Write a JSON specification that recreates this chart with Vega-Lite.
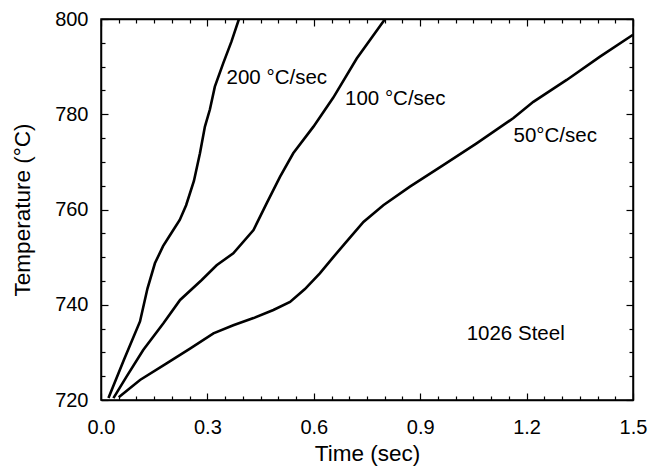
{
  "$schema": "https://vega.github.io/schema/vega-lite/v6.json",
  "autosize": "none",
  "width": 532,
  "height": 381,
  "padding": {"left": 101, "top": 19, "right": 15, "bottom": 67},
  "background": "white",
  "config": {
    "font": "Liberation Sans",
    "view": {"stroke": "black", "strokeWidth": 1.5},
    "axis": {
      "domainColor": "black",
      "domainWidth": 1.5,
      "tickColor": "black",
      "tickWidth": 1.2,
      "labelColor": "black",
      "titleColor": "black",
      "labelFontSize": 20,
      "titleFontSize": 22.5,
      "titleFontWeight": "normal",
      "grid": false
    }
  },
  "datasets": {
    "curves": [
      {"series": "200", "t": 0.021, "T": 720.4},
      {"series": "200", "t": 0.065, "T": 728.5},
      {"series": "200", "t": 0.110, "T": 736.5},
      {"series": "200", "t": 0.131, "T": 743.4},
      {"series": "200", "t": 0.152, "T": 748.7},
      {"series": "200", "t": 0.175, "T": 752.3},
      {"series": "200", "t": 0.198, "T": 755.0},
      {"series": "200", "t": 0.222, "T": 757.8},
      {"series": "200", "t": 0.240, "T": 760.9},
      {"series": "200", "t": 0.262, "T": 766.0},
      {"series": "200", "t": 0.279, "T": 771.8},
      {"series": "200", "t": 0.293, "T": 777.4},
      {"series": "200", "t": 0.307, "T": 781.0},
      {"series": "200", "t": 0.321, "T": 785.8},
      {"series": "200", "t": 0.345, "T": 790.8},
      {"series": "200", "t": 0.368, "T": 795.3},
      {"series": "200", "t": 0.389, "T": 800.0},
      {"series": "100", "t": 0.035, "T": 720.4},
      {"series": "100", "t": 0.072, "T": 724.9},
      {"series": "100", "t": 0.119, "T": 730.5},
      {"series": "100", "t": 0.176, "T": 736.1},
      {"series": "100", "t": 0.223, "T": 741.0},
      {"series": "100", "t": 0.284, "T": 745.2},
      {"series": "100", "t": 0.326, "T": 748.3},
      {"series": "100", "t": 0.373, "T": 750.8},
      {"series": "100", "t": 0.430, "T": 755.7},
      {"series": "100", "t": 0.467, "T": 761.3},
      {"series": "100", "t": 0.505, "T": 766.9},
      {"series": "100", "t": 0.542, "T": 771.8},
      {"series": "100", "t": 0.599, "T": 777.4},
      {"series": "100", "t": 0.655, "T": 783.5},
      {"series": "100", "t": 0.721, "T": 791.7},
      {"series": "100", "t": 0.801, "T": 800.0},
      {"series": "50", "t": 0.050, "T": 720.6},
      {"series": "50", "t": 0.110, "T": 724.2},
      {"series": "50", "t": 0.185, "T": 727.7},
      {"series": "50", "t": 0.251, "T": 730.8},
      {"series": "50", "t": 0.317, "T": 734.0},
      {"series": "50", "t": 0.373, "T": 735.7},
      {"series": "50", "t": 0.430, "T": 737.2},
      {"series": "50", "t": 0.486, "T": 738.9},
      {"series": "50", "t": 0.533, "T": 740.6},
      {"series": "50", "t": 0.575, "T": 743.3},
      {"series": "50", "t": 0.617, "T": 746.6},
      {"series": "50", "t": 0.655, "T": 750.0},
      {"series": "50", "t": 0.688, "T": 752.9},
      {"series": "50", "t": 0.740, "T": 757.4},
      {"series": "50", "t": 0.796, "T": 760.9},
      {"series": "50", "t": 0.871, "T": 764.8},
      {"series": "50", "t": 0.965, "T": 769.3},
      {"series": "50", "t": 1.059, "T": 773.9},
      {"series": "50", "t": 1.163, "T": 779.2},
      {"series": "50", "t": 1.219, "T": 782.6},
      {"series": "50", "t": 1.313, "T": 787.2},
      {"series": "50", "t": 1.407, "T": 792.1},
      {"series": "50", "t": 1.500, "T": 796.7}
    ],
    "labels": [
      {"label": "200 °C/sec", "t": 0.354, "T": 787.7},
      {"label": "100 °C/sec", "t": 0.688, "T": 783.2},
      {"label": "50°C/sec", "t": 1.163, "T": 775.5},
      {"label": "1026 Steel", "t": 1.031, "T": 733.8}
    ]
  },
  "layer": [
    {
      "data": {"name": "curves"},
      "mark": {"type": "line", "color": "black", "strokeWidth": 2.6, "clip": true},
      "encoding": {
        "x": {
          "field": "t", "type": "quantitative",
          "scale": {"domain": [0, 1.5], "nice": false, "zero": false},
          "axis": {
            "orient": "bottom",
            "title": "Time (sec)",
            "values": [0,0.05,0.1,0.15,0.2,0.25,0.3,0.35,0.4,0.45,0.5,0.55,0.6,0.65,0.7,0.75,0.8,0.85,0.9,0.95,1,1.05,1.1,1.15,1.2,1.25,1.3,1.35,1.4,1.45,1.5],
            "labelExpr": "round(datum.value*100) % 30 === 0 ? format(datum.value, '.1f') : ''",
            "tickSize": {"condition": {"test": "round(datum.value*100) % 30 === 0", "value": -7}, "value": -4},
            "labelPadding": 24,
            "labelFlush": false,
            "labelOverlap": false,
            "titlePadding": 2
          }
        },
        "y": {
          "field": "T", "type": "quantitative",
          "scale": {"domain": [720, 800], "nice": false, "zero": false},
          "axis": {
            "orient": "left",
            "title": "Temperature (°C)",
            "values": [720,725,730,735,740,745,750,755,760,765,770,775,780,785,790,795,800],
            "labelExpr": "datum.value % 20 === 0 ? datum.label : ''",
            "tickSize": {"condition": {"test": "datum.value % 20 === 0", "value": -7}, "value": -4},
            "labelPadding": 20,
            "labelFlush": false,
            "labelOverlap": false,
            "titlePadding": 20
          }
        },
        "detail": {"field": "series", "type": "nominal"}
      }
    },
    {
      "data": {"name": "labels"},
      "mark": {"type": "text", "align": "left", "baseline": "middle", "fontSize": 20.5, "color": "black"},
      "encoding": {
        "x": {
          "field": "t", "type": "quantitative",
          "axis": {
            "orient": "top",
            "title": null,
            "labels": false,
            "values": [0,0.05,0.1,0.15,0.2,0.25,0.3,0.35,0.4,0.45,0.5,0.55,0.6,0.65,0.7,0.75,0.8,0.85,0.9,0.95,1,1.05,1.1,1.15,1.2,1.25,1.3,1.35,1.4,1.45,1.5],
            "tickSize": {"condition": {"test": "round(datum.value*100) % 30 === 0", "value": -7}, "value": -4}
          }
        },
        "y": {
          "field": "T", "type": "quantitative",
          "axis": {
            "orient": "right",
            "title": null,
            "labels": false,
            "values": [720,725,730,735,740,745,750,755,760,765,770,775,780,785,790,795,800],
            "tickSize": {"condition": {"test": "datum.value % 20 === 0", "value": -7}, "value": -4}
          }
        },
        "text": {"field": "label", "type": "nominal"}
      }
    }
  ],
  "resolve": {"axis": {"x": "independent", "y": "independent"}}
}
